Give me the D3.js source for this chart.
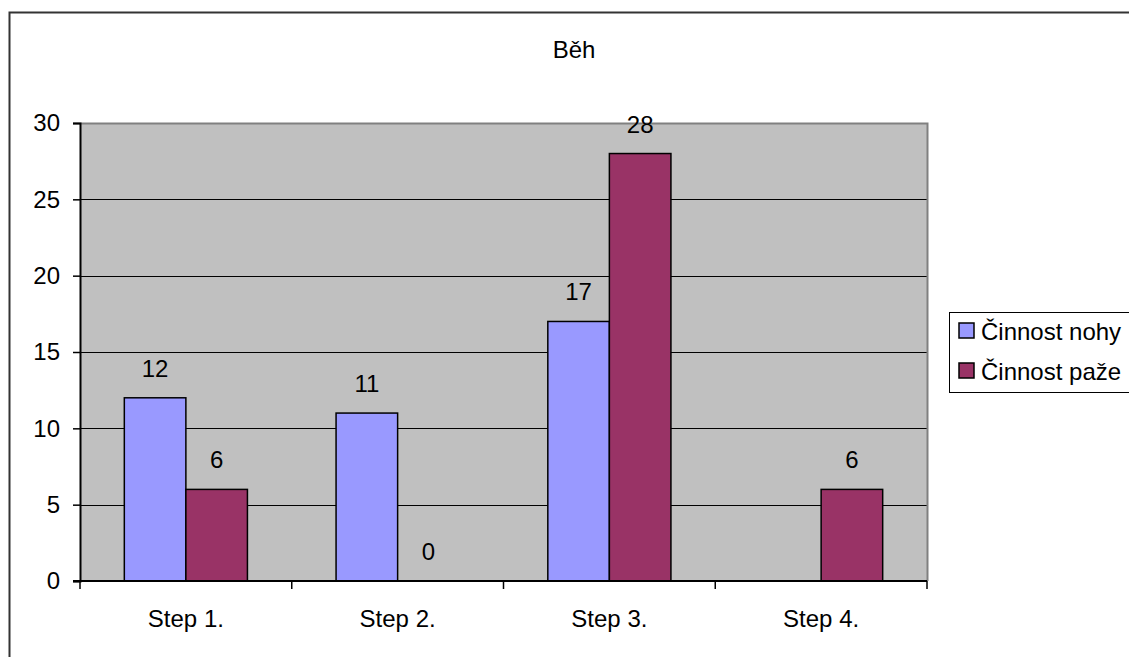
<!DOCTYPE html>
<html>
<head>
<meta charset="utf-8">
<script src="https://cdn.jsdelivr.net/npm/d3@7"></script>
<style>
  html, body { margin: 0; padding: 0; background: #fff; }
  svg { display: block; font-family: "Liberation Sans", Arial, sans-serif; }
</style>
</head>
<body>
<svg id="chart" width="1129" height="657"></svg>
<script>
// Chart data
const title = "Běh";
const categories = ["Step 1.", "Step 2.", "Step 3.", "Step 4."];
const seriesNames = ["Činnost nohy", "Činnost paže"];
const nohyValues = [12, 11, 17, null];
const pazeValues = [6, 0, 28, 6];
const yTicks = [0, 5, 10, 15, 20, 25, 30];
const seriesColors = ["#9999FF", "#993366"];

const seriesValues = [nohyValues, pazeValues];

const svg = d3.select("#chart");
const W = 1129, H = 657;
const plot = { left: 80, right: 927, top: 123, bottom: 581 };
const fontSize = 24;

// Outer chart frame
svg.append("rect")
  .attr("x", 9.5).attr("y", 12.5)
  .attr("width", W + 20).attr("height", H + 20)
  .attr("fill", "#fff")
  .attr("stroke", "#333").attr("stroke-width", 2);

// Scales
const x = d3.scaleBand().domain(categories).range([plot.left, plot.right]).padding(0);
const x1 = d3.scaleBand().domain(seriesNames).range([0, x.bandwidth()]).paddingInner(0).paddingOuter(0.72);
const y = d3.scaleLinear().domain([0, 30]).range([plot.bottom, plot.top]);

// Plot background
svg.append("rect")
  .attr("x", plot.left).attr("y", plot.top)
  .attr("width", plot.right - plot.left).attr("height", plot.bottom - plot.top)
  .attr("fill", "#C0C0C0");

// Horizontal gridlines
svg.append("g").selectAll("line")
  .data(yTicks.filter(t => t > 0 && t < 30))
  .join("line")
  .attr("x1", plot.left).attr("x2", plot.right)
  .attr("y1", d => Math.round(y(d)) + 0.5).attr("y2", d => Math.round(y(d)) + 0.5)
  .attr("stroke", "#000").attr("stroke-width", 1);

// Plot area top and right edges
svg.append("path")
  .attr("d", `M${plot.left},${plot.top + 0.5}H${plot.right + 0.5}V${plot.bottom}`)
  .attr("fill", "none").attr("stroke", "#808080").attr("stroke-width", 2);

// Bars
const groups = svg.append("g").selectAll("g")
  .data(seriesNames.map((name, i) => ({ name, color: seriesColors[i], values: seriesValues[i] })))
  .join("g");

groups.selectAll("rect")
  .data(s => categories.map((c, j) => ({ c, v: s.values[j], name: s.name, color: s.color })).filter(d => d.v !== null && d.v > 0))
  .join("rect")
  .attr("x", d => x(d.c) + x1(d.name))
  .attr("y", d => y(d.v))
  .attr("width", x1.bandwidth())
  .attr("height", d => y(0) - y(d.v))
  .attr("fill", d => d.color)
  .attr("stroke", "#000").attr("stroke-width", 1.5);

// Value labels
groups.selectAll("text")
  .data(s => categories.map((c, j) => ({ c, v: s.values[j], name: s.name })).filter(d => d.v !== null))
  .join("text")
  .attr("x", d => x(d.c) + x1(d.name) + x1.bandwidth() / 2)
  .attr("y", d => y(d.v) - 21)
  .attr("text-anchor", "middle")
  .attr("font-size", fontSize)
  .attr("fill", "#000")
  .text(d => d.v);

// Y axis
const yAxis = svg.append("g")
  .attr("transform", `translate(${plot.left},0)`)
  .call(d3.axisLeft(y).tickValues(yTicks).tickSize(7).tickPadding(13));
yAxis.select(".domain").attr("stroke", "#000").attr("stroke-width", 2);
yAxis.selectAll(".tick line").attr("stroke", "#000").attr("stroke-width", 1.5);
yAxis.selectAll("text").attr("font-size", fontSize).attr("font-family", "Liberation Sans, Arial, sans-serif").attr("fill", "#000");

// X axis
const xAxis = svg.append("g")
  .attr("transform", `translate(0,${plot.bottom})`)
  .call(d3.axisBottom(x).tickSize(0).tickPadding(29));
xAxis.select(".domain").remove();
xAxis.append("line")
  .attr("x1", plot.left - 7).attr("x2", plot.right)
  .attr("stroke", "#000").attr("stroke-width", 2);
xAxis.selectAll(".tick text").attr("font-size", fontSize).attr("font-family", "Liberation Sans, Arial, sans-serif").attr("fill", "#000");
// Category boundary ticks
xAxis.append("g").selectAll("line")
  .data(categories.concat([null]))
  .join("line")
  .attr("x1", (d, i) => i < categories.length ? x(d) : plot.right)
  .attr("x2", (d, i) => i < categories.length ? x(d) : plot.right)
  .attr("y1", 0).attr("y2", 8)
  .attr("stroke", "#000").attr("stroke-width", 1.5);

// Title
svg.append("text")
  .attr("x", 574).attr("y", 58)
  .attr("text-anchor", "middle")
  .attr("font-size", fontSize)
  .text(title);

// Legend
const legend = svg.append("g").attr("transform", "translate(949,312)");
legend.append("rect")
  .attr("x", 0.5).attr("y", 0.5).attr("width", 200).attr("height", 80)
  .attr("fill", "#fff").attr("stroke", "#000").attr("stroke-width", 1);
const items = legend.selectAll("g.item")
  .data(seriesNames.map((name, i) => ({ name, color: seriesColors[i] })))
  .join("g").attr("class", "item")
  .attr("transform", (d, i) => `translate(0,${20 + i * 40})`);
items.append("rect")
  .attr("x", 10).attr("y", -9).attr("width", 15).attr("height", 15)
  .attr("fill", d => d.color).attr("stroke", "#000").attr("stroke-width", 1.5);
items.append("text")
  .attr("x", 32).attr("y", 8)
  .attr("font-size", fontSize)
  .text(d => d.name);
</script>
</body>
</html>
